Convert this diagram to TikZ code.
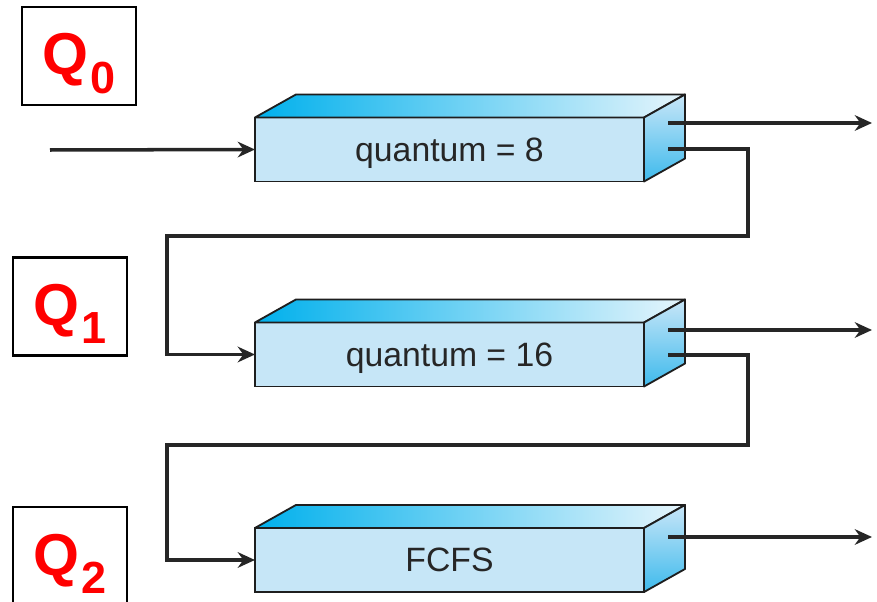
\documentclass[tikz,border=0pt]{standalone}
\usepackage{fontspec}
\setmainfont{Liberation Sans}
\usetikzlibrary{arrows.meta}

\definecolor{frontblue}{RGB}{198,230,247}
\definecolor{topcyan}{RGB}{0,176,236}
\definecolor{toplight}{RGB}{230,245,252}
\definecolor{sidelight}{RGB}{200,230,248}
\definecolor{sidedark}{RGB}{62,186,236}
\definecolor{edge}{RGB}{30,30,30}

\newcommand{\qsub}[1]{\kern0.06cm\raisebox{-0.45cm}{\fontsize{32}{32}\selectfont\bfseries #1}}

\begin{document}
\begin{tikzpicture}[
    x=0.025cm, y=-0.025cm,
    queue/.style={rectangle, draw=edge, line width=1.3pt, fill=frontblue, minimum width=9.725cm, minimum height=1.6cm, inner sep=0pt, outer sep=0pt, text depth=0pt, font=\fontsize{24}{28}\selectfont, text=black!85},
    queuetop/.style={left color=topcyan, right color=toplight, draw=edge, line width=1.3pt, line join=round},
    queueside/.style={top color=sidelight, bottom color=sidedark, draw=edge, line width=1.3pt, line join=round},
    qbox/.style={rectangle, draw=black, line width=1.5pt, minimum width=2.85cm, minimum height=2.45cm},
    qlabel/.style={text=red, font=\fontsize{42}{44}\selectfont\bfseries, inner sep=0pt, anchor=base},
    flow/.style={-{Stealth[length=4.3mm,width=3.9mm]}, line width=2.5pt, draw=black!85}
]
\useasboundingbox (0,0) rectangle (877,602);

% Queue labels
\node[qbox] (q0) at (79,56) {};
\node[qlabel] (q0text) at ([yshift=-0.475cm]q0.center) {Q\qsub{0}};

\node[qbox] (q1) at (70,306.5) {};
\node[qlabel] (q1text) at ([yshift=-0.475cm]q1.center) {Q\qsub{1}};

\node[qbox] (q2) at (70,556) {};
\node[qlabel] (q2text) at ([yshift=-0.475cm]q2.center) {Q\qsub{2}};

% Queues - front faces
\node[queue] (b0) at (449.5,149.5) {quantum = 8};
\node[queue] (b1) at (449.5,354.5) {quantum = 16};
\node[queue] (b2) at (449.5,560) {FCFS};

% Queues - top and side faces
\path[queuetop] (b0.north west) -- ++(41,-23) -- ++(389,0) -- (b0.north east) -- cycle;
\path[queueside] (b0.north east) -- ++(41,-23) -- ++(0,64) -- (b0.south east) -- cycle;

\path[queuetop] (b1.north west) -- ++(41,-23) -- ++(389,0) -- (b1.north east) -- cycle;
\path[queueside] (b1.north east) -- ++(41,-23) -- ++(0,64) -- (b1.south east) -- cycle;

\path[queuetop] (b2.north west) -- ++(41,-23) -- ++(389,0) -- (b2.north east) -- cycle;
\path[queueside] (b2.north east) -- ++(41,-23) -- ++(0,64) -- (b2.south east) -- cycle;

% Entry
\coordinate (in) at (50,150);
\draw[flow] (in) -- (b0.west);

% Exits
\coordinate (b0out) at (668,123);
\coordinate (b0end) at (872,123);
\coordinate (b1out) at (668,330);
\coordinate (b1end) at (872,330);
\coordinate (b2out) at (668,537);
\coordinate (b2end) at (872,537);
\draw[flow] (b0out) -- (b0end);
\draw[flow] (b1out) -- (b1end);
\draw[flow] (b2out) -- (b2end);

% Demotion to lower queue
\coordinate (b0loop) at (668,149);
\coordinate (turn0) at (748,236);
\coordinate (back0) at (167,236);
\draw[flow] (b0loop) -| (turn0) -- (back0) |- (b1.west);

\coordinate (b1loop) at (668,355);
\coordinate (turn1) at (748,445);
\coordinate (back1) at (167,445);
\draw[flow] (b1loop) -| (turn1) -- (back1) |- (b2.west);

\end{tikzpicture}
\end{document}
